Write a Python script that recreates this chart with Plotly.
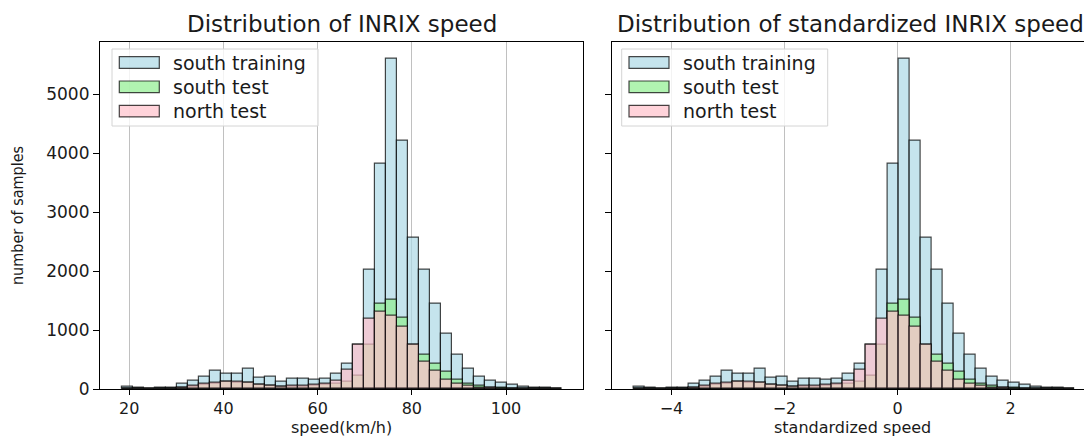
import numpy as np
import plotly.graph_objects as go

# ---------------- data ----------------
n_bins = 40
speed_bin_start = 18.36      # km/h, left edge of first bin
speed_bin_width = 2.34       # km/h
std_bin_start = -4.666       # standardized units
std_bin_width = 0.195

speed_ticks = [20, 40, 60, 80, 100]
std_ticks = [-4, -2, 0, 2]
count_ticks = [0, 1000, 2000, 3000, 4000, 5000]

series_names = ["south training", "south test", "north test"]

south_training = [40, 28, 10, 20, 28, 96, 141, 209, 311, 266,
                  266, 351, 192, 209, 124, 175, 175, 164, 170, 266,
                  424, 760, 2030, 3828, 5610, 4213, 2573, 2019, 1453, 933,
                  577, 339, 209, 136, 113, 68, 40, 28, 23, 11]
south_test = [5, 3, 3, 5, 8, 20, 45, 70, 95, 120,
              110, 100, 70, 55, 40, 45, 45, 55, 65, 90,
              120, 220, 750, 1450, 1521, 1205, 746, 580, 435, 294,
              164, 85, 50, 28, 15, 8, 5, 3, 2, 1]
north_test = [5, 3, 3, 5, 8, 28, 57, 85, 107, 130,
              119, 107, 68, 57, 45, 51, 57, 68, 85, 141,
              335, 760, 1190, 1318, 1240, 1060, 760, 464, 308, 164,
              96, 51, 28, 15, 10, 5, 3, 2, 1, 1]
series_counts = [south_training, south_test, north_test]

# ---------------- style ----------------
W, H = 1084, 437
fill_colors = ["rgba(173,216,230,0.7)", "rgba(144,238,144,0.7)", "rgba(255,192,203,0.7)"]
edge_color = "rgba(0,0,0,0.72)"
FONT = "DejaVu Sans"
TXT = "#1a1a1a"


def px(x):
    return x / W


def py(y):
    return 1 - y / H


speed_centers = speed_bin_start + speed_bin_width * (np.arange(n_bins) + 0.5)
std_centers = std_bin_start + std_bin_width * (np.arange(n_bins) + 0.5)

fig = go.Figure()
for centers, bw, xa, ya in [(speed_centers, speed_bin_width, "x", "y"),
                            (std_centers, std_bin_width, "x2", "y2")]:
    for name, counts, fc in zip(series_names, series_counts, fill_colors):
        fig.add_trace(go.Bar(
            x=centers, y=counts, width=bw, name=name,
            marker=dict(color=fc, line=dict(color=edge_color, width=1.2)),
            xaxis=xa, yaxis=ya, showlegend=False,
        ))

axis_common = dict(
    showline=True, linecolor="black", linewidth=1.2,
    ticks="outside", tickwidth=1.2, tickcolor="black",
    zeroline=False, automargin=False, layer="above traces",
)
xfont = dict(family=FONT, size=16, color=TXT)
yfont = dict(family=FONT, size=17, color=TXT)

y_top = 5892
fig.update_layout(
    width=W, height=H,
    margin=dict(l=0, r=0, t=0, b=0, pad=0),
    paper_bgcolor="white", plot_bgcolor="white",
    barmode="overlay", bargap=0,
    xaxis=dict(domain=[px(100), px(583)], range=[13.78, 116.35],
               tickvals=speed_ticks, showgrid=True, gridcolor="rgba(176,176,176,0.8)",
               gridwidth=1.1, mirror=True, anchor="y", ticklen=5, tickfont=xfont,
               **axis_common),
    yaxis=dict(domain=[py(389), py(41.7)], range=[0, y_top],
               tickvals=count_ticks, showgrid=False, mirror=True,
               anchor="x", ticklen=6, tickfont=yfont, **axis_common),
    xaxis2=dict(domain=[px(611.7), 1.0], range=[-5.058, 3.301],
                tickvals=std_ticks, showgrid=True, gridcolor="rgba(176,176,176,0.8)",
                gridwidth=1.1, mirror=True, anchor="y2", ticklen=5, tickfont=xfont,
                **axis_common),
    yaxis2=dict(domain=[py(389), py(41.7)], range=[0, y_top],
                tickvals=count_ticks, showgrid=False, mirror=False,
                showticklabels=False, anchor="x2", matches="y", ticklen=6,
                tickfont=yfont, **axis_common),
)

annotations = []
shapes = []

# titles
annotations.append(dict(text="Distribution of INRIX speed", x=px(341.5), y=py(24),
                        xref="paper", yref="paper", xanchor="center", yanchor="middle",
                        showarrow=False, font=dict(family=FONT, size=23, color=TXT)))
annotations.append(dict(text="Distribution of standardized INRIX speed", x=px(615), y=py(24),
                        xref="paper", yref="paper", xanchor="left", yanchor="middle",
                        showarrow=False, font=dict(family=FONT, size=23, color=TXT)))
# axis labels
annotations.append(dict(text="speed(km/h)", x=px(341.5), y=py(427.5),
                        xref="paper", yref="paper", xanchor="center", yanchor="middle",
                        showarrow=False, font=dict(family=FONT, size=16, color=TXT)))
annotations.append(dict(text="standardized speed", x=px(852), y=py(427.5),
                        xref="paper", yref="paper", xanchor="center", yanchor="middle",
                        showarrow=False, font=dict(family=FONT, size=16, color=TXT)))
annotations.append(dict(text="number of samples", x=px(18), y=py(216), textangle=-90,
                        xref="paper", yref="paper", xanchor="center", yanchor="middle",
                        showarrow=False, font=dict(family="DejaVu Sans Condensed", size=16, color=TXT)))


def add_legend(x0):
    shapes.append(dict(type="rect", xref="paper", yref="paper",
                       x0=px(x0), x1=px(x0 + 206), y0=py(126), y1=py(49),
                       line=dict(color="#d4d4d4", width=1),
                       fillcolor="rgba(255,255,255,0.8)", layer="above"))
    for i, (name, fc) in enumerate(zip(series_names, fill_colors)):
        yc = 62.5 + i * 24.3
        shapes.append(dict(type="rect", xref="paper", yref="paper",
                           x0=px(x0 + 7.3), x1=px(x0 + 47.3), y0=py(yc + 5.8), y1=py(yc - 5.8),
                           line=dict(color=edge_color, width=1.2), fillcolor=fc, layer="above"))
        annotations.append(dict(text=name, x=px(x0 + 59), y=py(yc), xref="paper", yref="paper",
                                xanchor="left", yanchor="middle", showarrow=False,
                                font=dict(family=FONT, size=19, color=TXT)))


add_legend(112)
add_legend(621.7)

fig.update_layout(annotations=annotations, shapes=shapes)
fig.write_html("out.html", config={"displayModeBar": False},
               post_script="document.body.style.margin='0px';document.body.style.overflow='hidden';")
